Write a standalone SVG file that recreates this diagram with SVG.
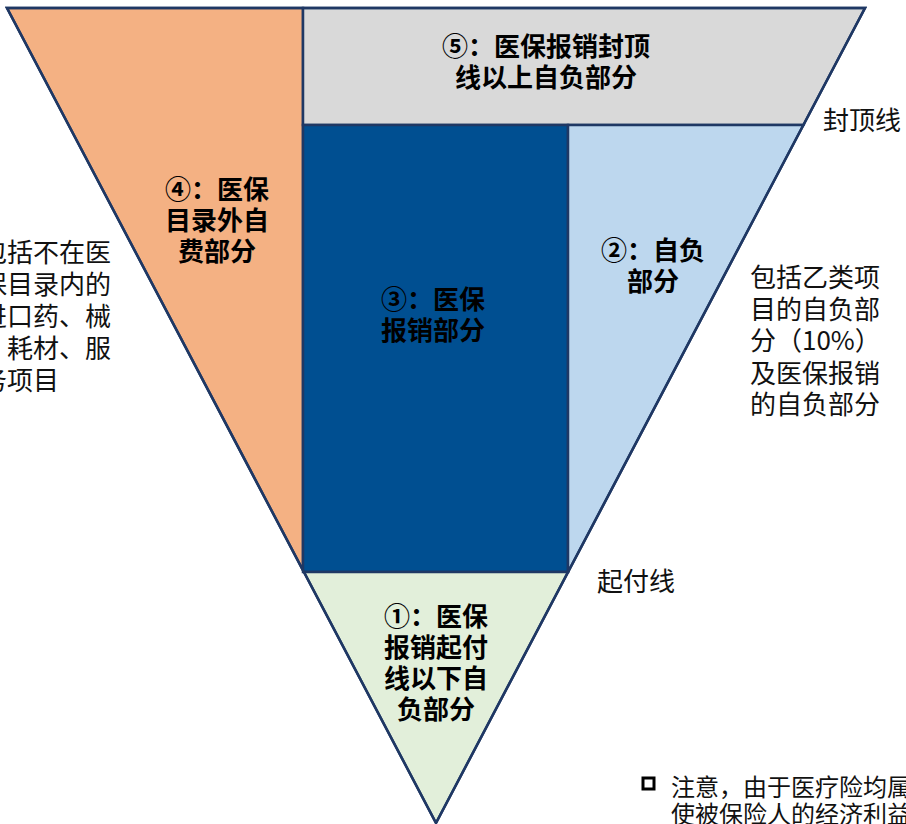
<svg xmlns="http://www.w3.org/2000/svg" width="906" height="824" viewBox="0 0 906 824">
  <style>
    .region { stroke: #1F3864; stroke-width: 2.5; stroke-linejoin: miter; }
    .lbl { font-family: "Noto Sans CJK SC", "Noto Sans", sans-serif; font-weight: bold; font-size: 26px; fill: #000; text-anchor: middle; dominant-baseline: central; }
    .note { font-family: "Noto Sans CJK SC", "Noto Sans", sans-serif; font-size: 26px; fill: #111; dominant-baseline: central; }
    .foot { font-family: "Noto Sans CJK SC", "Noto Sans", sans-serif; font-size: 24px; fill: #111; dominant-baseline: central; }
  </style>
  <rect width="906" height="824" fill="#FFFFFF"/>

  <g id="region4">
    <polygon class="region" fill="#F4B183" points="7,8 303,8 303,570.3"/>
    <text class="lbl" x="217" y="187">④：医保</text>
    <text class="lbl" x="217" y="218">目录外自</text>
    <text class="lbl" x="217" y="249">费部分</text>
  </g>

  <g id="region5">
    <polygon class="region" fill="#D9D9D9" points="303,8 865,8 803.4,125 303,125"/>
    <text class="lbl" x="546" y="44">⑤：医保报销封顶</text>
    <text class="lbl" x="546" y="75">线以上自负部分</text>
  </g>

  <g id="region3">
    <rect class="region" fill="#004F91" x="303" y="125" width="265" height="447"/>
    <text class="lbl" x="433" y="297">③：医保</text>
    <text class="lbl" x="433" y="328">报销部分</text>
  </g>

  <g id="region2">
    <polygon class="region" fill="#BDD7EE" points="568,125 803.4,125 568,572"/>
    <text class="lbl" x="653" y="248">②：自负</text>
    <text class="lbl" x="653" y="279">部分</text>
  </g>

  <g id="region1">
    <polygon class="region" fill="#E2EFDA" points="304,572 568,572 436,823"/>
    <text class="lbl" x="436" y="614">①：医保</text>
    <text class="lbl" x="436" y="645">报销起付</text>
    <text class="lbl" x="436" y="676">线以下自</text>
    <text class="lbl" x="436" y="707">负部分</text>
  </g>

  <g id="connectors">
    <polygon points="7,8 865,8 436,823" fill="none" stroke="#1F3864" stroke-width="2.5"/>
  </g>

  <g id="note-left">
    <text class="note" x="-19" y="250">包括不在医</text>
    <text class="note" x="-19" y="282">保目录内的</text>
    <text class="note" x="-19" y="314">进口药、械</text>
    <text class="note" x="-19" y="346">、耗材、服</text>
    <text class="note" x="-19" y="378">务项目</text>
  </g>

  <g id="note-right">
    <text class="note" x="750" y="275">包括乙类项</text>
    <text class="note" x="750" y="307">目的自负部</text>
    <text class="note" x="750" y="338">分（10%）</text>
    <text class="note" x="750" y="371">及医保报销</text>
    <text class="note" x="750" y="402">的自负部分</text>
  </g>

  <g id="label-cap">
    <text class="note" x="823" y="118">封顶线</text>
  </g>

  <g id="label-deductible">
    <text class="note" x="597" y="579">起付线</text>
  </g>

  <g id="footnote">
    <rect x="643" y="778" width="11" height="11" fill="none" stroke="#000" stroke-width="3"/>
    <text class="foot" x="671" y="785">注意，由于医疗险均属</text>
    <text class="foot" x="671" y="812">使被保险人的经济利益</text>
  </g>
</svg>
